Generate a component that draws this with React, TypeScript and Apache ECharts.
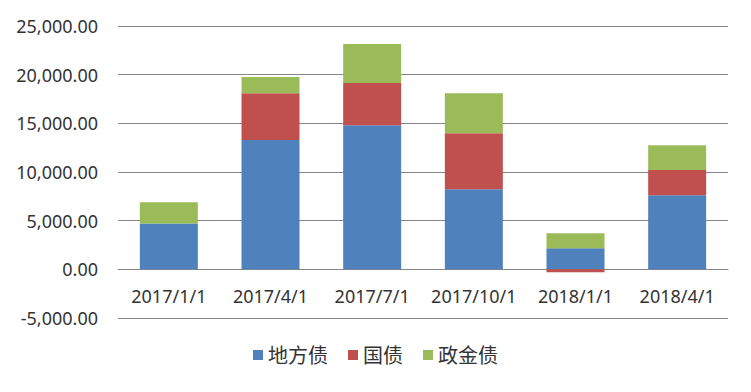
import React, { useEffect, useRef } from "react";
import * as echarts from "echarts";

const categories = ["2017/1/1", "2017/4/1", "2017/7/1", "2017/10/1", "2018/1/1", "2018/4/1"];
const localDebt = [4700, 13300, 14800, 8230, 2160, 7600];
const treasury = [0, 4800, 4350, 5750, -300, 2600];
const policyBank = [2200, 1650, 4000, 4100, 1550, 2550];
const seriesNames = ["地方债", "国债", "政金债"];
const colors = ["#4F81BD", "#C0504D", "#9BBB59"];

export default function App() {
  const ref = useRef<HTMLDivElement>(null);
  useEffect(() => {
    const chart = echarts.init(ref.current!, null, { renderer: "svg" });
    const font = "'Noto Sans', 'Noto Sans CJK SC', sans-serif";
    const datasets = [localDebt, treasury, policyBank];
    chart.setOption({
      animation: false,
      backgroundColor: "#ffffff",
      grid: { left: 110, right: 15, top: 18, bottom: 66 },
      legend: {
        bottom: 14,
        left: "center",
        itemWidth: 10,
        itemHeight: 10,
        itemGap: 20,
        icon: "rect",
        textStyle: { fontSize: 20, color: "#333333", fontFamily: font },
        data: seriesNames,
      },
      xAxis: {
        type: "category",
        data: categories,
        axisLine: { onZero: true, lineStyle: { color: "#868686" } },
        axisTick: { show: false },
        axisLabel: { interval: 0, fontSize: 18, color: "#333333", fontFamily: font, margin: -31 },
      },
      yAxis: {
        type: "value",
        min: -5000,
        max: 25000,
        interval: 5000,
        axisLine: { show: false },
        axisTick: { show: false },
        splitLine: { lineStyle: { color: "#868686" } },
        axisLabel: {
          fontSize: 18,
          color: "#333333",
          fontFamily: font,
          margin: 20,
          formatter: (v: number) =>
            v.toLocaleString("en-US", { minimumFractionDigits: 2, maximumFractionDigits: 2 }),
        },
      },
      series: seriesNames.map((name, i) => ({
        name,
        type: "bar",
        stack: "total",
        barWidth: 58,
        itemStyle: { color: colors[i] },
        data: datasets[i],
      })),
    });
    return () => chart.dispose();
  }, []);
  return <div ref={ref} style={{ width: 735, height: 376 }} />;
}
